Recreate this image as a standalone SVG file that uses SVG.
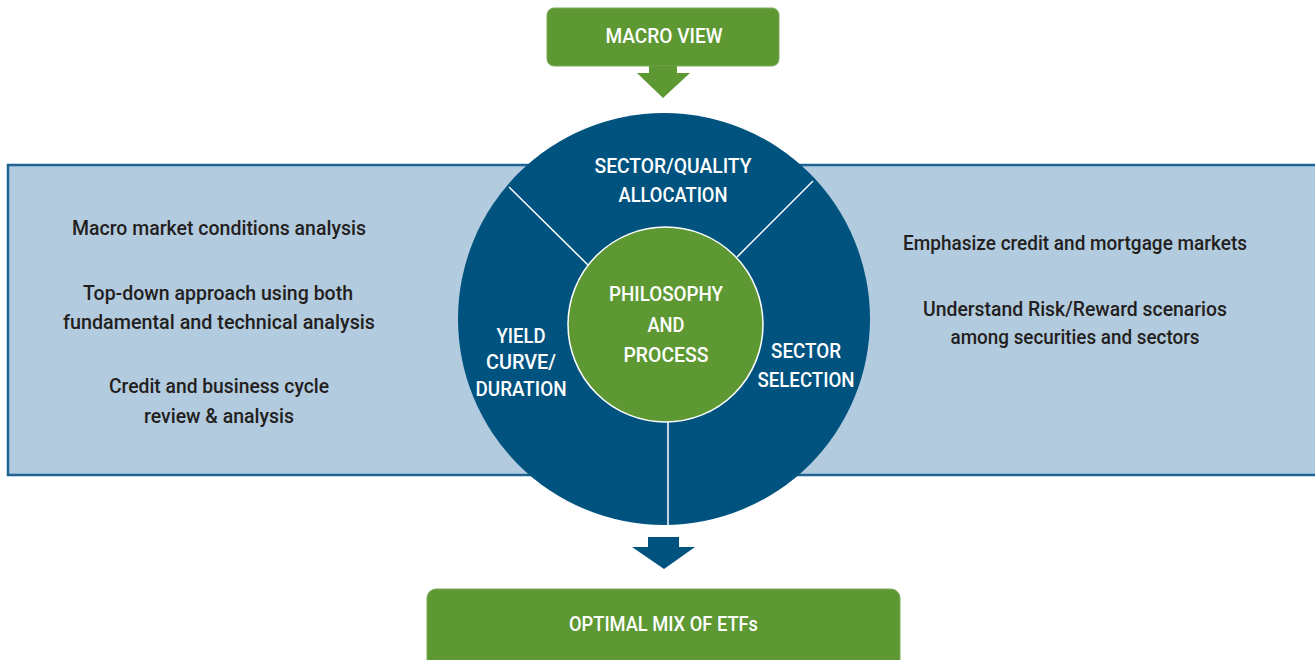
<svg xmlns="http://www.w3.org/2000/svg" width="1315" height="660" viewBox="0 0 1315 660">
<style>
.t{font-family:Roboto,"Liberation Sans",sans-serif;font-size:20.5px;font-weight:500;text-anchor:middle}
.dk{fill:#231f20}
.wh{fill:#ffffff}
.green{fill:#5d9833}
.blue{fill:#00537f}
.div{stroke:#ffffff;stroke-width:1.5;fill:none}
</style>
<rect width="1315" height="660" fill="#ffffff"/>
<g id="band">
<rect x="8" y="165" width="1310" height="310" fill="#b3cbdf" stroke="#1f6394" stroke-width="2.5"/>
<text class="t dk" x="219" y="235" textLength="294" lengthAdjust="spacingAndGlyphs">Macro market conditions analysis</text>
<text class="t dk" x="218" y="300" textLength="270" lengthAdjust="spacingAndGlyphs">Top-down approach using both</text>
<text class="t dk" x="219" y="329" textLength="312" lengthAdjust="spacingAndGlyphs">fundamental and technical analysis</text>
<text class="t dk" x="219" y="393" textLength="220" lengthAdjust="spacingAndGlyphs">Credit and business cycle</text>
<text class="t dk" x="219" y="423" textLength="150" lengthAdjust="spacingAndGlyphs">review &amp; analysis</text>
<text class="t dk" x="1075" y="250" textLength="344" lengthAdjust="spacingAndGlyphs">Emphasize credit and mortgage markets</text>
<text class="t dk" x="1075" y="316" textLength="304" lengthAdjust="spacingAndGlyphs">Understand Risk/Reward scenarios</text>
<text class="t dk" x="1075" y="344" textLength="249" lengthAdjust="spacingAndGlyphs">among securities and sectors</text>
</g>
<g id="wheel">
<circle class="blue" cx="664" cy="319" r="206"/>
<line class="div" x1="509" y1="187" x2="588" y2="265"/>
<line class="div" x1="813" y1="181" x2="737" y2="257"/>
<line class="div" x1="668" y1="422" x2="668" y2="526"/>
<text class="t wh" x="673" y="173" textLength="157" lengthAdjust="spacingAndGlyphs">SECTOR/QUALITY</text>
<text class="t wh" x="673" y="202" textLength="109" lengthAdjust="spacingAndGlyphs">ALLOCATION</text>
<text class="t wh" x="521" y="343" textLength="49" lengthAdjust="spacingAndGlyphs">YIELD</text>
<text class="t wh" x="521" y="369" textLength="70" lengthAdjust="spacingAndGlyphs">CURVE/</text>
<text class="t wh" x="521" y="396" textLength="91" lengthAdjust="spacingAndGlyphs">DURATION</text>
<text class="t wh" x="806" y="358" textLength="70" lengthAdjust="spacingAndGlyphs">SECTOR</text>
<text class="t wh" x="806" y="387" textLength="97" lengthAdjust="spacingAndGlyphs">SELECTION</text>
</g>
<g id="core">
<circle class="green" cx="665.5" cy="324.5" r="97.5" stroke="#ffffff" stroke-width="1.5"/>
<text class="t wh" x="666" y="301" textLength="114" lengthAdjust="spacingAndGlyphs">PHILOSOPHY</text>
<text class="t wh" x="666" y="332" textLength="37" lengthAdjust="spacingAndGlyphs">AND</text>
<text class="t wh" x="666" y="362" textLength="85" lengthAdjust="spacingAndGlyphs">PROCESS</text>
</g>
<g id="macro">
<rect class="green" x="547" y="8" width="232" height="58" rx="7" stroke="#7aab5a" stroke-width="1"/>
<text class="t wh" x="664" y="43" textLength="117" lengthAdjust="spacingAndGlyphs">MACRO VIEW</text>
</g>
<g id="optimal">
<rect class="green" x="427" y="589" width="473" height="80" rx="9" stroke="#7aab5a" stroke-width="1"/>
<text class="t wh" x="663.5" y="631" textLength="189" lengthAdjust="spacingAndGlyphs">OPTIMAL MIX OF ETFs</text>
</g>
<g id="connectors">
<polygon class="green" points="649,66 677,66 677,73 690,73 663,98 637,73 649,73"/>
<polygon class="blue" points="648,537 679,537 679,547 695,547 664,569 632,547 648,547"/>
</g>
</svg>
